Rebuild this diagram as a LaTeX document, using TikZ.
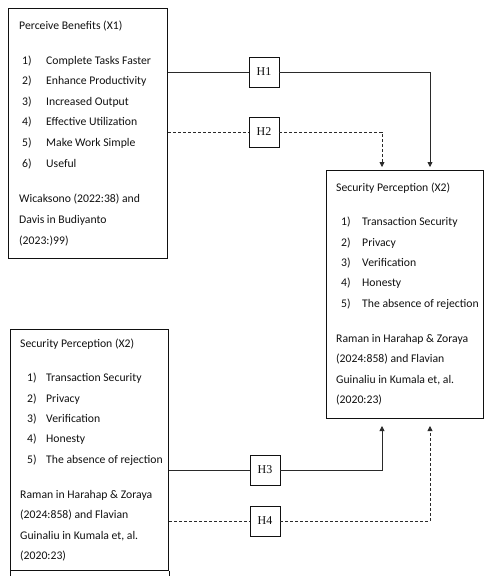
\documentclass[tikz,border=0pt]{standalone}
\usepackage{fontspec}
\setmainfont{Carlito}
\newfontfamily\hfont{Liberation Serif}
\usepackage{xcolor}
\usepackage{tikz}
\usetikzlibrary{positioning,arrows.meta}
\definecolor{ink}{HTML}{111111}
\definecolor{wire}{HTML}{2A2A2A}

\begin{document}
\begin{tikzpicture}[x=1pt,y=-1pt,
  every node/.style={font=\fontsize{11.7}{14}\selectfont,text=ink,inner sep=0pt},
  frame/.style={draw=ink,line width=1pt,anchor=north west},
  txt/.style={anchor=base west},
  hbox/.style={draw=ink,line width=0.9pt,minimum size=30pt,font=\hfont\fontsize{12}{14}\selectfont},
  link/.style={wire,line width=0.8pt},
  arrowtip/.style={-{Triangle[length=5pt,width=5pt]}},
  dashline/.style={dash pattern=on 3pt off 2pt}]
  \useasboundingbox (0,0) rectangle (484,576);
  \node[frame,minimum width=159pt,minimum height=250pt] (pb) at (8,8) {};
  \node[frame,minimum width=157pt,minimum height=248pt] (sp) at (326,170) {};
  \node[frame,minimum width=158pt,minimum height=241pt] (sq) at (10,329) {};
  \draw[ink,line width=1pt] (sq.south west) -- ++(0,8) (sq.south east) -- ++(0,8);
  \node[txt] (pbt) at (19,29) {Perceive Benefits (X1)};
  \foreach \t [count=\i] in {Complete Tasks Faster,Enhance Productivity,Increased Output,Effective Utilization,Make Work Simple,Useful} {
    \node[txt] (pbn\i) at (22,43.5+20.6*\i) {\i)};
    \node[txt] (pbi\i) at (46,43.5+20.6*\i) {\t};
  }
  \node[txt] (pbr1) at (19,202) {Wicaksono (2022:38) and};
  \node[txt] (pbr2) at (19,223) {Davis in Budiyanto};
  \node[txt] (pbr3) at (19,244) {(2023:)99)};
  \foreach \b/\x/\y/\n/\s in {sp/336/191/341/362,sq/20/347/27/46} {
    \node[txt] (\b t) at (\x,\y) {Security Perception (X2)};
    \foreach \t [count=\i] in {Transaction Security,Privacy,Verification,Honesty,The absence of rejection} {
      \node[txt] (\b n\i) at (\n,\y+14.6+20.3*\i) {\i)};
      \node[txt] (\b i\i) at (\s,\y+14.6+20.3*\i) {\t};
    }
    \node[txt] (\b r1) at (\x,\y+151) {Raman in Harahap \& Zoraya};
    \node[txt] (\b r2) at (\x,\y+171.5) {(2024:858) and Flavian};
    \node[txt] (\b r3) at (\x,\y+192) {Guinaliu in Kumala et, al.};
    \node[txt] (\b r4) at (\x,\y+212.5) {(2020:23)};
  }
  \node[hbox] (h1) at (264,72) {H1};
  \node[hbox] (h2) at (264,132) {H2};
  \node[hbox] (h3) at (265,470) {H3};
  \node[hbox] (h4) at (265,521) {H4};
  \coordinate (a1) at (430,167);
  \coordinate (a2) at (382,167);
  \coordinate (a3) at (382,426);
  \coordinate (a4) at (430,426);
  \draw[link] (pb.east |- h1) -- (h1);
  \draw[link,arrowtip] (h1) -| (a1);
  \draw[link,dashline] (pb.east |- h2) -- (h2);
  \draw[link,dashline,arrowtip] (h2) -| (a2);
  \draw[link] (sq.east |- h3) -- (h3);
  \draw[link,arrowtip] (h3) -| (a3);
  \draw[link,dashline] (sq.east |- h4) -- (h4);
  \draw[link,dashline,arrowtip] (h4) -| (a4);
\end{tikzpicture}
\end{document}
